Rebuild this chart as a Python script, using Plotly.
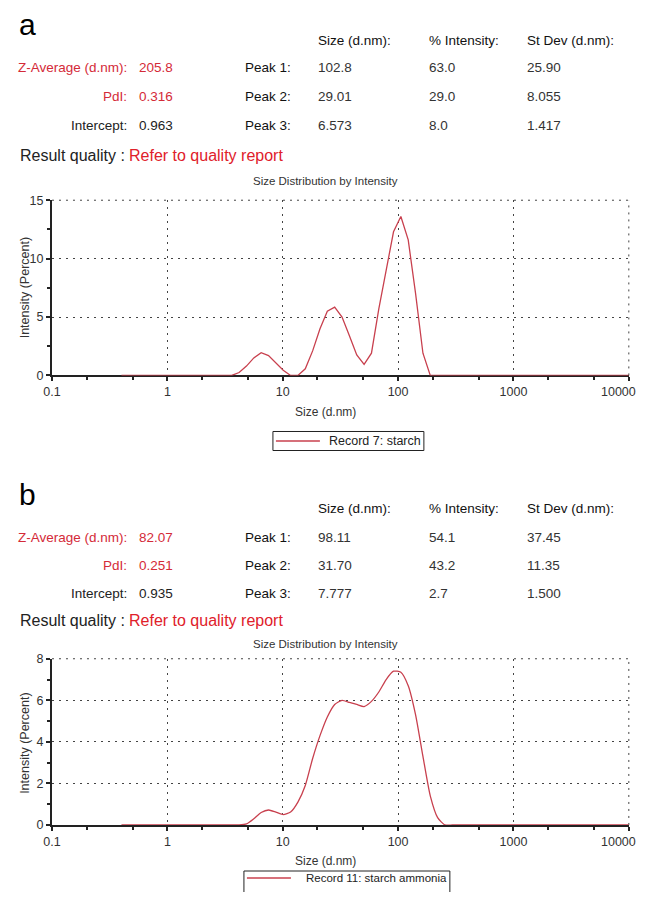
import plotly.graph_objects as go

W, H = 630, 884

# Measured placement of the figure in the delivered picture (offset and scale),
# used to convert target picture pixels into figure paper coordinates.
OX, SX = 16.0, 0.986
OY, SY = 15.0, 0.983

# DLS size bins (d.nm)
sizes_nm = [0.4, 0.4632, 0.5365, 0.6213, 0.7195, 0.8332, 0.9649,
            1.117, 1.294, 1.499, 1.736, 2.01, 2.328, 2.696, 3.122, 3.615,
            4.187, 4.849, 5.615, 6.503, 7.531, 8.721,
            10.1, 11.7, 13.54, 15.69, 18.17, 21.04, 24.36, 28.21, 32.67,
            37.84, 43.82, 50.75, 58.77, 68.06, 78.82, 91.28,
            105.7, 122.4, 141.8, 164.2, 190.1, 220.2, 255.0, 295.3, 342.0,
            396.1, 458.7, 531.2, 615.1, 712.4, 825.0, 955.4,
            1106, 1281, 1484, 1718, 1990, 2305, 2669, 3091, 3580, 4145,
            4801, 5560, 6439, 7456, 8635, 10000]

# Record 7: starch (intensity %)
intensity_a = [0, 0, 0, 0, 0, 0, 0,
               0, 0, 0, 0, 0, 0, 0, 0, 0,
               0.25, 0.8, 1.5, 1.95, 1.7, 1.1,
               0.45, 0, 0, 0.57, 2.1, 4.0, 5.5, 5.85, 5.0,
               3.4, 1.75, 0.94, 1.9, 5.7, 9.0, 12.3,
               13.6, 11.6, 7.0, 1.9, 0, 0, 0, 0, 0,
               0, 0, 0, 0, 0, 0, 0,
               0, 0, 0, 0, 0, 0, 0, 0, 0, 0,
               0, 0, 0, 0, 0, 0]

# Record 11: starch ammonia (intensity %)
intensity_b = [0, 0, 0, 0, 0, 0, 0,
               0, 0, 0, 0, 0, 0, 0, 0, 0,
               0, 0.05, 0.3, 0.6, 0.72, 0.62,
               0.5, 0.62, 1.1, 1.9, 3.2, 4.3, 5.2, 5.8, 6.0,
               5.9, 5.8, 5.7, 5.95, 6.4, 7.0, 7.4,
               7.35, 6.7, 5.3, 3.3, 1.4, 0.35, 0, 0, 0,
               0, 0, 0, 0, 0, 0, 0,
               0, 0, 0, 0, 0, 0, 0, 0, 0, 0,
               0, 0, 0, 0, 0, 0]

series_names = ["Record 7: starch", "Record 11: starch ammonia"]

x_tickvals = [0.1, 1, 10, 100, 1000, 10000]
x_ticktext = ["0.1", "1", "10", "100", "1000", ""]
x_last_label = "10000"
y_ticks_a = [0, 5, 10, 15]
y_ticks_b = [0, 2, 4, 6, 8]

table_headers = ["Size (d.nm):", "% Intensity:", "St Dev (d.nm):"]
peak_labels = ["Peak 1:", "Peak 2:", "Peak 3:"]
left_labels = ["Z-Average (d.nm):", "PdI:", "Intercept:"]
left_vals_a = ["205.8", "0.316", "0.963"]
left_vals_b = ["82.07", "0.251", "0.935"]
peaks_a = [["102.8", "63.0", "25.90"], ["29.01", "29.0", "8.055"], ["6.573", "8.0", "1.417"]]
peaks_b = [["98.11", "54.1", "37.45"], ["31.70", "43.2", "11.35"], ["7.777", "2.7", "1.500"]]

RED_TXT = "#d42a38"
LINE = "#c8404e"
FONT = "Liberation Sans Narrow, Arial Narrow, Liberation Sans, Arial, sans-serif"
ARIAL = "Liberation Sans, Arial, sans-serif"
GRID = "#444"

fig = go.Figure()
fig.add_trace(go.Scatter(x=sizes_nm, y=intensity_a, mode="lines",
                         line=dict(color=LINE, width=1.3),
                         name=series_names[0], xaxis="x", yaxis="y", showlegend=False))
fig.add_trace(go.Scatter(x=sizes_nm, y=intensity_b, mode="lines",
                         line=dict(color=LINE, width=1.3, shape="spline", smoothing=0.6),
                         name=series_names[1], xaxis="x2", yaxis="y2", showlegend=False))


def px(x):
    return ((x - OX) / SX) / W


def py(y):
    return 1 - ((y - OY) / SY) / H


ann = []
shapes = []


def text(x, y, s, size=13.5, color="#222", anchor="left", font=FONT):
    ann.append(dict(x=px(x), y=py(y), xref="paper", yref="paper", text=s,
                    showarrow=False, xanchor=anchor, yanchor="middle",
                    font=dict(size=size, color=color, family=font)))


def legend_box(x0, x1, y0, y1, ym, name, size):
    shapes.append(dict(type="rect", xref="paper", yref="paper",
                       x0=px(x0), x1=px(x1), y0=py(y1), y1=py(y0),
                       line=dict(color="#222", width=1), fillcolor="white"))
    shapes.append(dict(type="line", xref="paper", yref="paper",
                       x0=px(x0 + 3), x1=px(x0 + 47), y0=py(ym), y1=py(ym),
                       line=dict(color=LINE, width=1.6)))
    text(x1 - 1, ym, name, size=size, color="#222", anchor="right")


def panel(letter, letter_y, header_y, rows, result_y, title_y, xlabel_y, ycenter, lv, pk, tick_y):
    text(16, letter_y, letter, size=30, color="#000", font=ARIAL)
    hx = [315, 426, 524]
    for i, h in enumerate(table_headers):
        text(hx[i], header_y, h, color="#111")
    for r in range(3):
        yy = rows[r]
        col = RED_TXT if r < 2 else "#222"
        text(128, yy, left_labels[r], color=col, anchor="right")
        text(136, yy, lv[r], color=col)
        text(242, yy, peak_labels[r], color="#111")
        for c in range(3):
            text(hx[c], yy, pk[r][c], color="#333")
    text(17, result_y, "Result quality :", size=16, color="#222")
    text(126, result_y, "Refer to quality report", size=16, color="#e0202a")
    text(325, title_y, "Size Distribution by Intensity", size=11.5, color="#333", anchor="center")
    text(325, xlabel_y, "Size (d.nm)", size=12, color="#333", anchor="center")
    text(637, tick_y, x_last_label, size=12.5, color="#333", anchor="right")
    ann.append(dict(x=px(24), y=py(ycenter), xref="paper", yref="paper",
                    text="Intensity (Percent)", showarrow=False, textangle=-90,
                    xanchor="center", yanchor="middle",
                    font=dict(size=12.5, color="#333", family=ARIAL)))


panel("a", 24, 40, [67, 96, 125], 155, 181, 412, 287, left_vals_a, peaks_a, 392)
panel("b", 494, 508, [537, 565, 593], 620, 643, 860, 742, left_vals_b, peaks_b, 841)
legend_box(272, 423, 431, 450, 440.5, series_names[0], 12.5)
legend_box(243, 449, 870, 900, 877, series_names[1], 11.5)

grid = dict(showgrid=True, gridcolor=GRID, gridwidth=1, griddash="2px,5px")

xaxis_common = dict(type="log", range=[-1, 4], tickvals=x_tickvals, ticktext=x_ticktext,
                    showline=True, linecolor="#222", linewidth=2,
                    ticks="outside", ticklen=4, tickcolor="#222", tickwidth=1.5,
                    minor=dict(ticks="outside", ticklen=3, tickcolor="#222", tickwidth=1.5, showgrid=False),
                    tickfont=dict(size=12.5, family=FONT, color="#333"),
                    layer="below traces", zeroline=False, fixedrange=True, **grid)
yaxis_common = dict(showline=True, linecolor="#222", linewidth=2,
                    ticks="outside", ticklen=4, tickcolor="#222", tickwidth=1.5,
                    tickfont=dict(size=12.5, family=FONT, color="#333"),
                    layer="below traces", zeroline=False, **grid)

border = dict(color=GRID, width=1, dash="2px,5px")
for xr, yr in (("x domain", "y domain"), ("x2 domain", "y2 domain")):
    shapes.append(dict(type="line", xref=xr, yref=yr, x0=0, x1=1, y0=1, y1=1, line=border, layer="below"))
    shapes.append(dict(type="line", xref=xr, yref=yr, x0=1, x1=1, y0=0, y1=1, line=border, layer="below"))

fig.update_layout(
    width=W, height=H,
    margin=dict(l=0, r=0, t=0, b=0),
    paper_bgcolor="white", plot_bgcolor="white",
    xaxis=dict(domain=[px(51), px(628)], anchor="y", **xaxis_common),
    yaxis=dict(domain=[py(375), py(200)], anchor="x", range=[0, 15], tickvals=y_ticks_a,
               minor=dict(ticks="outside", ticklen=3, dtick=2.5, tick0=0, tickcolor="#222", tickwidth=1.5, showgrid=False),
               **yaxis_common),
    xaxis2=dict(domain=[px(51), px(628)], anchor="y2", **xaxis_common),
    yaxis2=dict(domain=[py(824), py(658)], anchor="x2", range=[0, 8], tickvals=y_ticks_b,
                minor=dict(ticks="outside", ticklen=3, dtick=1, tick0=0, tickcolor="#222", tickwidth=1.5, showgrid=False),
                **yaxis_common),
    shapes=shapes,
    annotations=ann,
    showlegend=False,
)

fig.write_html("out.html", config={"displayModeBar": False, "responsive": False})
